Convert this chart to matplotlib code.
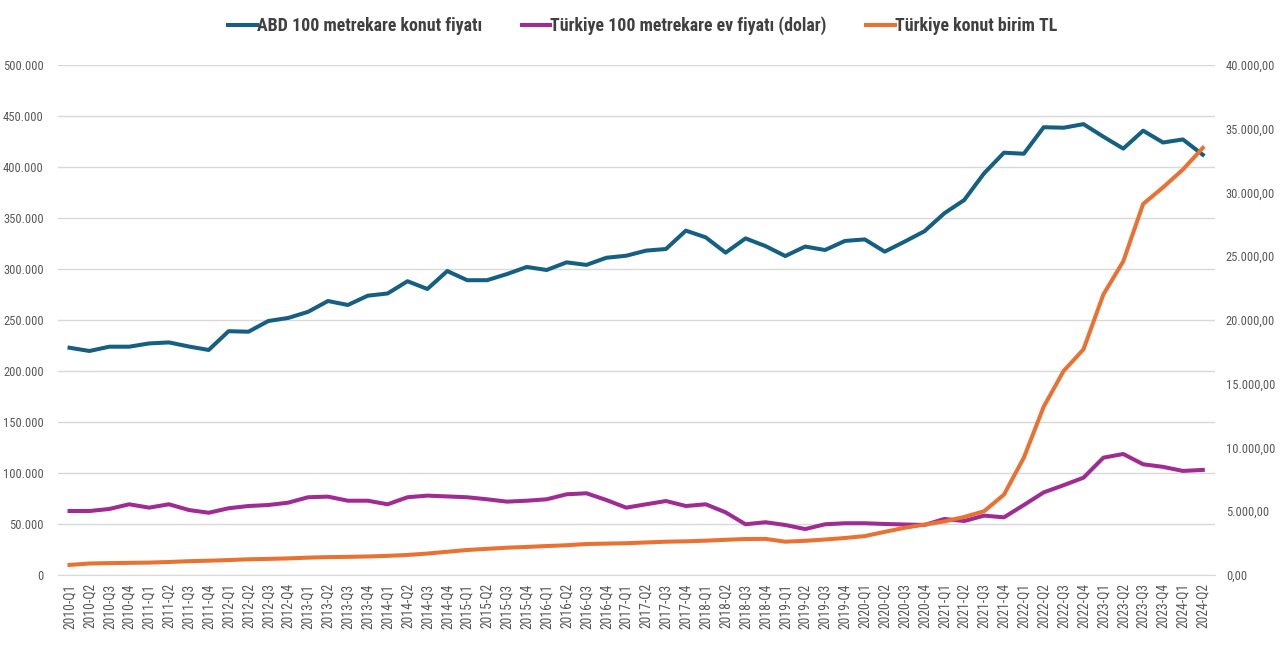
import matplotlib
matplotlib.use("Agg")
import matplotlib.pyplot as plt
from matplotlib import font_manager
from matplotlib.ticker import FuncFormatter, FixedLocator
import numpy as np

avail = {f.name for f in font_manager.fontManager.ttflist}
narrow = None
for cand in ['Liberation Sans Narrow', 'Roboto Condensed', 'DejaVu Sans Condensed',
             'Open Sans Condensed', 'Noto Sans Condensed']:
    if cand in avail:
        narrow = cand
        break
if narrow:
    plt.rcParams['font.family'] = [narrow, 'DejaVu Sans']
    tick_fs, xt_fs, leg_fs = 9.0, 9.8, 12.9
else:
    plt.rcParams['font.family'] = ['Roboto', 'DejaVu Sans']
    tick_fs, xt_fs, leg_fs = 8.0, 8.3, 11.5

quarters = [f"{y}-Q{q}" for y in range(2010, 2025) for q in range(1, 5)][:58]

abd_price = [222.8, 219.6, 223.8, 223.8, 227.0, 228.0, 224.0, 220.6, 239.0, 238.5,
             249.0, 252.0, 258.0, 268.6, 264.7, 273.8, 276.0, 288.0, 280.4, 298.0,
             289.0, 289.0, 295.0, 302.0, 299.0, 306.5, 304.0, 311.0, 313.0, 318.0,
             319.6, 337.6, 331.0, 316.0, 330.0, 322.5, 312.7, 322.0, 318.6, 327.5,
             329.0, 317.0, 326.8, 337.0, 354.6, 367.6, 393.8, 414.0, 413.0, 439.0,
             438.5, 442.0, 429.7, 418.0, 435.6, 424.0, 427.0, 412.0]
abd_price = [v * 1000 for v in abd_price]

tr_usd = [62.7, 62.7, 64.7, 69.3, 66.0, 69.3, 63.7, 61.0, 65.4, 67.6,
          68.6, 70.9, 76.2, 76.8, 72.8, 72.8, 69.3, 76.2, 77.8, 77.0,
          76.2, 74.2, 71.9, 72.8, 74.2, 79.1, 80.1, 73.5, 66.0, 69.3,
          72.5, 67.6, 69.3, 61.4, 49.7, 51.7, 49.0, 45.0, 49.7, 50.7,
          50.7, 50.0, 49.5, 49.0, 54.9, 52.9, 58.2, 56.5, 68.6, 81.0,
          88.0, 95.4, 115.0, 118.6, 108.5, 106.0, 102.0, 103.0]
tr_usd = [v * 1000 for v in tr_usd]

tr_tl = [790, 900, 930, 950, 970, 1020, 1080, 1120, 1170, 1230,
         1260, 1300, 1360, 1400, 1420, 1450, 1500, 1570, 1680, 1820,
         1960, 2050, 2140, 2200, 2270, 2330, 2430, 2460, 2490, 2550,
         2610, 2640, 2690, 2760, 2820, 2830, 2610, 2680, 2780, 2900,
         3050, 3380, 3700, 3950, 4200, 4550, 5000, 6300, 9200, 13200,
         16000, 17700, 22000, 24600, 29100, 30400, 31800, 33500]

labels = ["ABD 100 metrekare konut fiyatı",
          "Türkiye 100 metrekare ev fiyatı (dolar)",
          "Türkiye konut birim TL"]
colors = ["#156082", "#A02B93", "#E97132"]

fig = plt.figure(figsize=(12.8, 6.48), dpi=100)
ax = fig.add_axes([0.045, 0.1127, 0.904, 0.7870])
ax2 = ax.twinx()

x = np.arange(len(quarters))
l1, = ax.plot(x, abd_price, color=colors[0], lw=2.9, solid_joinstyle='round', label=labels[0])
l2, = ax.plot(x, tr_usd, color=colors[1], lw=2.9, solid_joinstyle='round', label=labels[1])
l3, = ax2.plot(x, tr_tl, color=colors[2], lw=2.9, solid_joinstyle='round', label=labels[2])

ax.set_xlim(-0.6, len(quarters) - 0.4)
ax.set_ylim(0, 500000)
ax2.set_ylim(0, 40000)
ax.yaxis.set_major_locator(FixedLocator(np.arange(0, 500001, 50000)))
ax2.yaxis.set_major_locator(FixedLocator(np.arange(0, 40001, 5000)))

def left_fmt(v, p):
    return "0" if v == 0 else f"{int(v):,}".replace(",", ".")

def right_fmt(v, p):
    s = f"{v:,.2f}"
    return s.replace(",", "X").replace(".", ",").replace("X", ".")

ax.yaxis.set_major_formatter(FuncFormatter(left_fmt))
ax2.yaxis.set_major_formatter(FuncFormatter(right_fmt))

ax.set_xticks(x)
ax.set_xticklabels(quarters, rotation=90, fontsize=xt_fs, color="#595959")

ax.grid(axis='y', color="#D9D9D9", lw=1.0)
ax.set_axisbelow(True)
for a in (ax, ax2):
    for s in a.spines.values():
        s.set_visible(False)
    a.tick_params(length=0)
ax.spines['bottom'].set_visible(True)
ax.spines['bottom'].set_color("#D9D9D9")
ax.tick_params(axis='y', labelsize=tick_fs, labelcolor="#595959", pad=10)
ax2.tick_params(axis='y', labelsize=tick_fs, labelcolor="#595959", pad=8)
ax.tick_params(axis='x', pad=6)

leg = fig.legend(handles=[l1, l2, l3], loc='center', bbox_to_anchor=(0.502, 0.96),
                 ncol=3, frameon=False, handlelength=1.6, handletextpad=0.0,
                 columnspacing=2.2, prop={'weight': 'bold', 'size': leg_fs})
for t in leg.get_texts():
    t.set_color("#404040")

fig.savefig("out.png", dpi=100)
